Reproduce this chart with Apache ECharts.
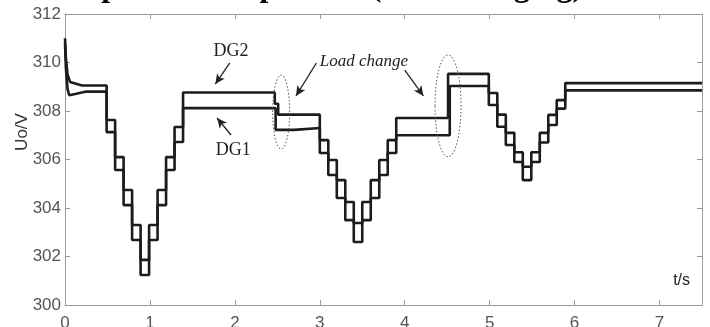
<!DOCTYPE html>
<html>
<head>
<meta charset="utf-8">
<title>Uo/V</title>
<script src="https://cdn.jsdelivr.net/npm/echarts@6/dist/echarts.min.js"></script>
<style>
  html, body { margin: 0; padding: 0; background: #fff; }
  #chart { width: 710px; height: 327px; }
</style>
</head>
<body>
<div id="chart"></div>
<script>
// 起始暂态 [t, V]
const dg2Start = [[0, 311.0], [0.01, 310.2], [0.03, 309.5], [0.06, 309.2], [0.2, 309.05]];
const dg1Start = [[0, 310.8], [0.01, 309.8], [0.03, 308.9], [0.05, 308.65], [0.12, 308.7], [0.25, 308.8]];

// 阶跃时刻 / 阶跃后电压
const dg2Times = [0.49, 0.59, 0.69, 0.79, 0.89, 0.99, 1.09, 1.19, 1.29, 1.39,
  2.47, 2.51, 3.0, 3.1, 3.2, 3.3, 3.4, 3.5, 3.6, 3.7, 3.8, 3.9,
  4.51, 4.99, 5.09, 5.19, 5.29, 5.39, 5.49, 5.59, 5.69, 5.79, 5.89];
const dg2Levels = [307.63, 306.10, 304.74, 303.30, 301.86, 303.30, 304.74, 306.10, 307.34, 308.76,
  308.30, 307.85, 306.80, 305.98, 305.15, 304.25, 303.38, 304.25, 305.15, 305.98, 306.80, 307.71,
  309.53, 308.74, 307.85, 307.10, 306.30, 305.70, 306.30, 307.10, 307.84, 308.45, 309.15];

const dg1Times = [0.49, 0.59, 0.69, 0.79, 0.89, 0.99, 1.09, 1.19, 1.29, 1.39,
  2.48, 2.70, 3.0, 3.1, 3.2, 3.3, 3.4, 3.5, 3.6, 3.7, 3.8, 3.9,
  4.53, 4.99, 5.09, 5.19, 5.29, 5.39, 5.49, 5.59, 5.69, 5.79, 5.89];
const dg1Levels = [307.13, 305.57, 304.12, 302.68, 301.24, 302.68, 304.12, 305.57, 306.72, 308.12,
  307.22, 307.30, 306.27, 305.36, 304.41, 303.50, 302.60, 303.50, 304.41, 305.36, 306.27, 307.00,
  309.03, 308.25, 307.35, 306.60, 305.90, 305.15, 305.90, 306.70, 307.42, 308.10, 308.85];

const tEnd = 7.5;
const xTickLabels = ['0', '1', '2', '3', '4', '5', '6', '7'];
const yTickLabels = ['300', '302', '304', '306', '308', '310', '312'];

// 注释箭头 [起点, 终点]
const arrows = [
  [[1.94, 309.98], [1.77, 309.11]],
  [[1.955, 307.01], [1.79, 307.71]],
  [[2.96, 309.98], [2.72, 308.62]],
  [[4.0, 309.69], [4.22, 308.62]]
];

function buildSteps(start, times, levels) {
  const pts = start.slice();
  let cur = start[start.length - 1][1];
  times.forEach((t, i) => {
    pts.push([t, cur]);
    pts.push([t, levels[i]]);
    cur = levels[i];
  });
  pts.push([tEnd, cur]);
  return pts;
}

const chart = echarts.init(document.getElementById('chart'));
const boxColor = '#9a9a9a';
const lineColor = '#1c1c1c';

const xBase = {
  type: 'value', min: 0, max: tEnd, interval: 1,
  axisLine: { show: true, onZero: false, lineStyle: { color: boxColor } },
  axisTick: { inside: true, length: 5, lineStyle: { color: boxColor } },
  splitLine: { show: false }
};
const yBase = {
  type: 'value', min: 300, max: 312, interval: 2,
  axisLine: { show: true, onZero: false, lineStyle: { color: boxColor } },
  axisTick: { inside: true, length: 5, lineStyle: { color: boxColor } },
  splitLine: { show: false }
};

chart.setOption({
  animation: false,
  backgroundColor: '#fff',
  grid: { left: 65, right: 8, top: 14, bottom: 22, containLabel: false, outerBoundsMode: 'none' },
  xAxis: [
    Object.assign({}, xBase, {
      position: 'bottom',
      axisLabel: {
        margin: 10, color: '#555', fontSize: 17, fontFamily: 'Liberation Sans',
        showMaxLabel: false,
        formatter: v => xTickLabels.indexOf(String(v)) >= 0 ? String(v) : ''
      }
    }),
    Object.assign({}, xBase, { position: 'top', axisLabel: { show: false } })
  ],
  yAxis: [
    Object.assign({}, yBase, {
      position: 'left',
      axisLabel: {
        margin: 4, color: '#555', fontSize: 17, fontFamily: 'Liberation Sans',
        formatter: v => yTickLabels.indexOf(String(v)) >= 0 ? String(v) : ''
      }
    }),
    Object.assign({}, yBase, { position: 'right', axisLabel: { show: false } })
  ],
  series: [
    {
      name: 'DG2', type: 'line', showSymbol: false, symbol: 'none',
      data: buildSteps(dg2Start, dg2Times, dg2Levels),
      lineStyle: { color: lineColor, width: 2.6 },
      markLine: {
        silent: true,
        symbol: ['none', 'arrow'],
        symbolSize: [7, 10],
        label: { show: false },
        lineStyle: { color: '#222', width: 1.3, type: 'solid' },
        data: arrows.map(a => [{ coord: a[0] }, { coord: a[1] }])
      }
    },
    {
      name: 'DG1', type: 'line', showSymbol: false, symbol: 'none',
      data: buildSteps(dg1Start, dg1Times, dg1Levels),
      lineStyle: { color: lineColor, width: 2.6 }
    }
  ]
});

// 文字与虚线椭圆
const px = (t, v) => chart.convertToPixel({ xAxisIndex: 0, yAxisIndex: 0 }, [t, v]);
const serif = '"Liberation Serif", "DejaVu Serif", serif';

function textAt(t, v, text, font, fill) {
  const p = px(t, v);
  return {
    type: 'text', x: p[0], y: p[1], z: 50,
    style: { text: text, font: font, fill: fill, align: 'center', verticalAlign: 'middle' }
  };
}
function ellipseAt(t, v, rx, ry) {
  const p = px(t, v);
  return {
    type: 'ellipse', z: 40,
    shape: { cx: p[0], cy: p[1], rx: rx, ry: ry },
    style: { fill: 'none', stroke: '#555', lineWidth: 1, lineDash: [1.5, 2] }
  };
}

chart.setOption({
  graphic: [
    {
      type: 'text', x: 48, y: 4,
      style: {
        text: 'Output Uo comparison (load changing)',
        font: 'bold 32px ' + serif, fill: '#000', verticalAlign: 'bottom'
      }
    },
    {
      type: 'text', x: 22, y: 132, rotation: Math.PI / 2,
      style: {
        text: 'Uo/V', font: '17px "Liberation Sans"', fill: '#333',
        align: 'center', verticalAlign: 'middle'
      }
    },
    textAt(1.955, 310.47, 'DG2', '18px ' + serif, '#222'),
    textAt(1.98, 306.39, 'DG1', '18px ' + serif, '#222'),
    textAt(3.52, 310.06, 'Load change', 'italic 17px ' + serif, '#222'),
    textAt(7.26, 300.99, 't/s', '16px "Liberation Sans"', '#222'),
    ellipseAt(2.545, 307.96, 8.5, 37),
    ellipseAt(4.51, 308.21, 13, 51)
  ]
});
</script>
</body>
</html>
